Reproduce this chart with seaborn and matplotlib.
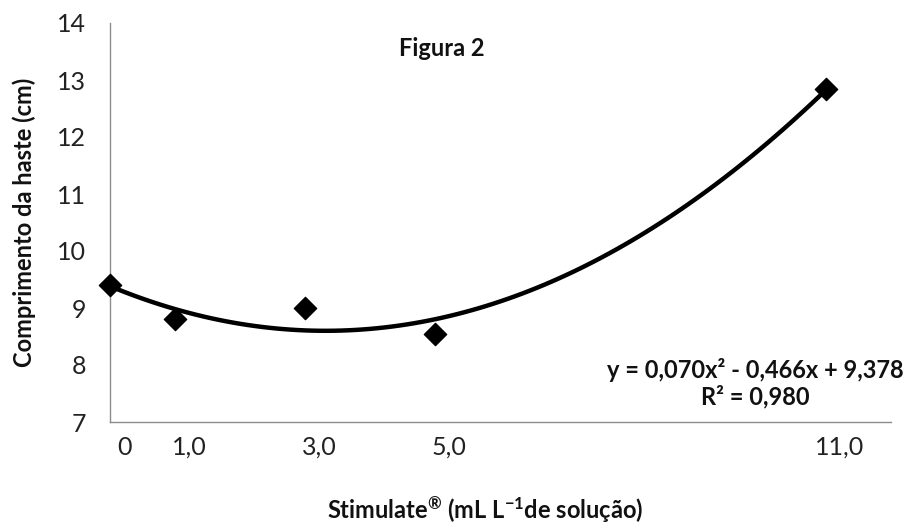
import numpy as np
import pandas as pd
import matplotlib
matplotlib.use("Agg")
import matplotlib.pyplot as plt
import matplotlib.transforms as mtransforms
import seaborn as sns

# dose of Stimulate (mL/L) and stem length (cm)
doses = [0, 1, 3, 5, 11]
lengths = [9.40, 8.80, 9.00, 8.55, 12.85]
tick_labels = ["0", "1,0", "3,0", "5,0", "11,0"]
y_ticks = [7, 8, 9, 10, 11, 12, 13, 14]
equation = "y = 0,070x² - 0,466x + 9,378"
r_squared = "R² = 0,980"

df = pd.DataFrame({"dose": doses, "length": lengths})

sns.set_theme(style="white")
plt.rcParams["font.family"] = ["Lato", "DejaVu Sans"]
plt.rcParams["mathtext.fontset"] = "custom"
plt.rcParams["mathtext.rm"] = "Lato"
plt.rcParams["mathtext.bf"] = "Lato:bold"
plt.rcParams["mathtext.default"] = "bf"

W, H = 915, 529
fig = plt.figure(figsize=(W / 100, H / 100), dpi=100)
ax = fig.add_axes([110 / W, 1 - 422 / H, (891 - 110) / W, (422 - 23) / H])

# quadratic trend line fitted to the points, plus the diamond markers
sns.regplot(data=df, x="dose", y="length", order=2, ci=None, ax=ax,
            scatter=False, line_kws={"color": "black", "linewidth": 3.2})
sns.scatterplot(data=df, x="dose", y="length", ax=ax, marker="D", s=130,
                color="black", edgecolor="black", zorder=5, clip_on=False)

ax.set_xlim(0, 12)
ax.set_ylim(7, 14)
ax.set_xticks(doses)
ax.set_xticklabels(tick_labels)
ax.set_yticks(y_ticks)
ax.tick_params(axis="x", length=0, pad=10, labelsize=18, colors="#222222")
ax.tick_params(axis="y", length=0, pad=17, labelsize=18, colors="#222222")
# Excel-style labels sit a bit to the right of the category
offset = mtransforms.ScaledTranslation(14 / 100, 0, fig.dpi_scale_trans)
for lab in ax.get_xticklabels():
    lab.set_transform(lab.get_transform() + offset)

ax.set_xlabel("")
ax.set_ylabel("")
for side in ["top", "right"]:
    ax.spines[side].set_visible(False)
for side in ["left", "bottom"]:
    ax.spines[side].set_color("#8c8c8c")
    ax.spines[side].set_linewidth(1.0)

txt = dict(ha="center", va="center", fontsize=17, fontweight="bold", color="#111111")
fig.text(442 / W, 1 - 48 / H, "Figura 2", **txt)
fig.text(755 / W, 1 - 370 / H, equation, **txt)
fig.text(755 / W, 1 - 397 / H, r_squared, **txt)
fig.text(485 / W, 1 - 510 / H, "Stimulate$^{®}$ (mL L$^{-1}$de solução)", **txt)
fig.text(24 / W, 1 - 222 / H, "Comprimento da haste (cm)", rotation=90, **txt)

fig.savefig("out.png", dpi=100, facecolor="white")
